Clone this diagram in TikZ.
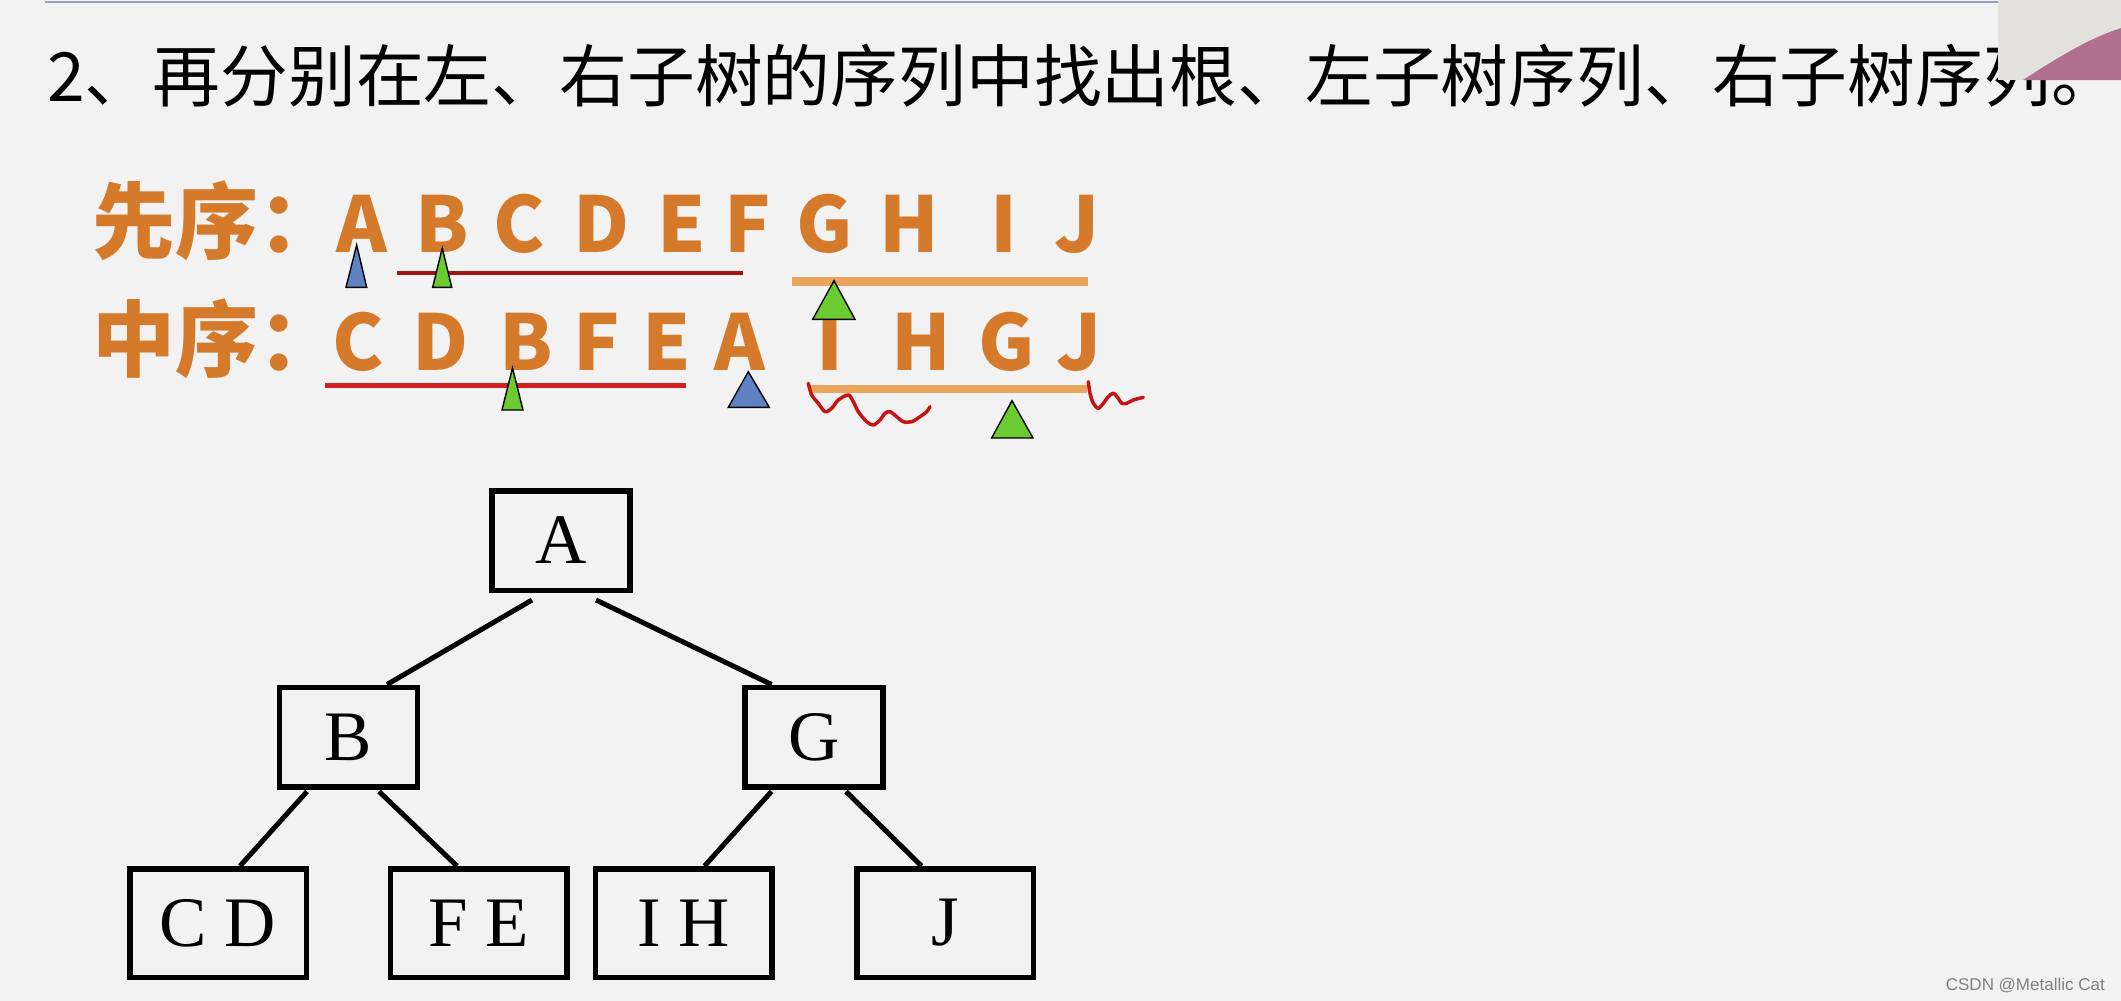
\documentclass[tikz,border=0pt]{standalone}
\usepackage{fontspec}
\newfontfamily\cjk{Noto Sans CJK SC}
\newfontfamily\treefont{Liberation Serif}
\newfontfamily\markfont{Liberation Sans}
\usetikzlibrary{arrows.meta}

\definecolor{bg}{RGB}{242,242,242}
\definecolor{topline}{RGB}{150,160,182}
\definecolor{seqorange}{RGB}{212,122,42}
\definecolor{barorange}{RGB}{234,164,92}
\definecolor{bardark}{RGB}{160,22,22}
\definecolor{barred}{RGB}{212,32,32}
\definecolor{wavyred}{RGB}{196,20,20}
\definecolor{tipgreen}{RGB}{108,202,50}
\definecolor{tipblue}{RGB}{94,130,196}
\definecolor{curlgray}{RGB}{226,225,222}
\definecolor{curlpink}{RGB}{176,112,142}

\tikzset{
  seq/.style={anchor=base, inner sep=0pt, text=seqorange, font=\cjk\bfseries\fontsize{77}{90}\selectfont},
  seqlabel/.style={seq, anchor=base west, font=\cjk\bfseries\fontsize{83}{90}\selectfont},
  treebox/.style={draw, line width=5.5pt, inner sep=0pt, minimum width=138pt, minimum height=99.5pt, font=\treefont\fontsize{71}{75}\selectfont},
  leafbox/.style={treebox, minimum width=176.5pt, minimum height=108.5pt},
  edge/.style={line width=5pt},
  tip/.style={line width=1.4pt, line join=miter},
  wavy/.style={line width=3.5pt, wavyred, line cap=round, line join=round},
}

\begin{document}
\begin{tikzpicture}[x=1pt,y=-1pt]

\def\width{2121}
\def\height{1001}

\useasboundingbox (0,0) rectangle (\width,\height);
\fill [bg] (0,0) rectangle (\width,\height);

% TITLE
\draw [line width=2pt, topline] (45,2) -- (1998,2);
\node [anchor=base west, inner sep=0pt, font=\cjk\fontsize{67.8}{70}\selectfont] (title) at (47,101) {2、再分别在左、右子树的序列中找出根、左子树序列、右子树序列。};
\fill [curlgray] (1998,0) rectangle (\width,80);
\fill [curlpink] (2023,80) .. controls (2060,56) and (2090,38) .. (\width,28) -- (\width,80) -- cycle;

% SEQUENCES
\node [seqlabel] (pre) at (92,252) {先序：};
\node [seqlabel] (in) at (92,370) {中序：};
\foreach \x/\l [count=\i] in {362/A, 442/B, 519.5/C, 602/D, 682/E, 748/F, 825/G, 909/H, 1003.5/I, 1077/J}
  \node [seq] (pre\i) at (\x,252) {\l};
\foreach \x/\l [count=\i] in {358/C, 440.5/D, 526.5/B, 596.5/F, 666.5/E, 740/A, 830/I, 921/H, 1007/G, 1079/J}
  \node [seq] (in\i) at (\x,370) {\l};

% BARS
\draw [line width=4pt, bardark] (397,273.3) -- (743.3,273.3);
\draw [line width=9pt, barorange] (791.7,281.7) -- (1088,281.7);
\draw [line width=5pt, barred] (325,385) -- (686,385);
\draw [line width=8pt, barorange] (810,389) -- (1087,389);

% WAVY MARKS
\draw [wavy] plot [smooth] coordinates {(808.3,383.3) (811.7,395) (818.3,403.3) (825,411.7) (831.7,408.3) (838.3,400) (848.3,395) (853.3,401.7) (858.3,411.7) (866.7,421.7) (873.3,425) (880,420) (885,413.3) (890,411.7) (896.7,416.7) (903.3,421.7) (911.7,421.7) (920,416.7) (926.7,411.7) (930,406.7)};
\draw [wavy] plot [smooth] coordinates {(1088.3,381.7) (1090,393.3) (1093.3,403.3) (1098.3,408.3) (1103.3,403.3) (1108.3,396.7) (1113.3,393.3) (1118.3,398.3) (1121.7,403.3) (1126.7,403.3) (1133.3,400) (1143.3,397.3)};

% POINTERS
\filldraw [tip, fill=tipblue] (356.7,245) -- (346,287.3) -- (366.7,287.3) -- cycle;
\filldraw [tip, fill=tipgreen] (442.3,248) -- (432.7,287.3) -- (451.7,287.3) -- cycle;
\filldraw [tip, fill=tipgreen] (834,280.7) -- (812.7,319.3) -- (855,319.3) -- cycle;
\filldraw [tip, fill=tipgreen] (512.5,368) -- (502,410) -- (523,410) -- cycle;
\filldraw [tip, fill=tipblue] (748.3,371.7) -- (728.3,407.3) -- (769.3,407.3) -- cycle;
\filldraw [tip, fill=tipgreen] (1012,400.7) -- (991.6,438) -- (1033,438) -- cycle;

% TREE
\node [treebox] (A) at (561,540.5) {A};
\node [treebox] (B) at (348.5,737) {B};
\node [treebox] (G) at (814,737) {G};
\node [leafbox] (CD) at (218,923) {C D};
\node [leafbox] (FE) at (478.5,923) {F E};
\node [leafbox] (IH) at (683.5,923) {I H};
\node [leafbox] (J) at (945,923) {J};

\draw [edge] ([xshift=-29pt,yshift=-7pt]A.south) -- ([xshift=38.5pt]B.north);
\draw [edge] ([xshift=35pt,yshift=-7pt]A.south) -- ([xshift=-42.5pt]G.north);
\draw [edge] ([xshift=-41.5pt,yshift=-2pt]B.south) -- ([xshift=22pt]CD.north);
\draw [edge] ([xshift=30.5pt,yshift=-2pt]B.south) -- ([xshift=-21.5pt]FE.north);
\draw [edge] ([xshift=-42.5pt,yshift=-2pt]G.south) -- ([xshift=21pt]IH.north);
\draw [edge] ([xshift=32pt,yshift=-2pt]G.south) -- ([xshift=-23.5pt]J.north);

% WATERMARK
\node [anchor=base east, inner sep=0pt, text=gray, font=\markfont\fontsize{17}{18}\selectfont] (mark) at (2105,990) {CSDN @Metallic Cat};

\end{tikzpicture}
\end{document}
